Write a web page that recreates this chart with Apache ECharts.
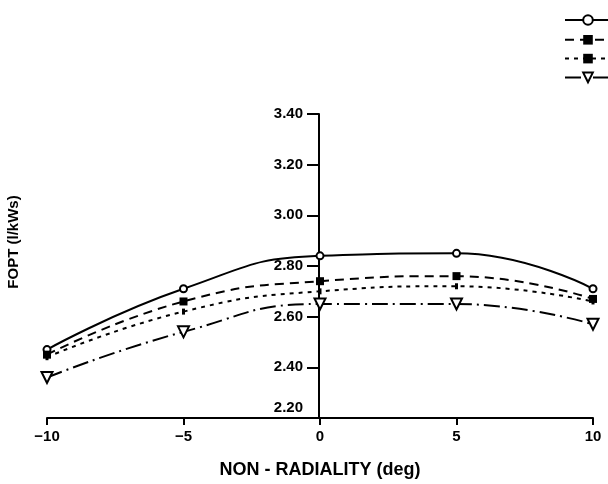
<!DOCTYPE html>
<html>
<head>
<meta charset="utf-8">
<script src="https://cdn.jsdelivr.net/npm/echarts@6/dist/echarts.min.js"></script>
<style>html,body{margin:0;padding:0;background:#fff}#c{width:608px;height:484px}</style>
</head>
<body>
<div id="c"></div>
<script>
const xValues = [-10, -5, 0, 5, 10];
const seriesA = [2.47, 2.71, 2.84, 2.85, 2.71];   // solid, open circle
const seriesB = [2.45, 2.66, 2.74, 2.76, 2.67];   // dashed, filled square
const seriesC = [2.44, 2.62, 2.70, 2.72, 2.66];   // short dashed
const seriesD = [2.36, 2.54, 2.65, 2.65, 2.57];   // dash-dot, open triangle
const yTicks = [2.2, 2.4, 2.6, 2.8, 3.0, 3.2, 3.4];
const xTicks = [-10, -5, 0, 5, 10];
const xTitle = 'NON - RADIALITY (deg)';
const yTitle = 'FOPT (l/kWs)';

const font = '"Liberation Sans", Arial, sans-serif';
const pair = arr => xValues.map((x, i) => [x, arr[i]]);

const chart = echarts.init(document.getElementById('c'), null, {renderer: 'canvas'});
chart.setOption({
  backgroundColor: '#fff',
  animation: false,
  grid: {left: 47, right: 15, top: 114, bottom: 62, containLabel: false},
  legend: {
    orient: 'vertical', left: 564, top: 14, padding: 0, itemWidth: 46, itemHeight: 12, itemGap: 8,
    formatter: () => '', textStyle: {fontSize: 1},
    data: ['A', 'B', 'C', 'D']
  },
  xAxis: {
    type: 'value', min: -10, max: 10, interval: 5,
    name: xTitle, nameLocation: 'middle', nameGap: 43,
    nameTextStyle: {color: '#000', fontFamily: font, fontWeight: 'bold', fontSize: 18},
    axisLine: {show: true, onZero: false, lineStyle: {color: '#000', width: 2}},
    axisTick: {show: true, inside: false, length: 7, lineStyle: {color: '#000', width: 2}},
    splitLine: {show: false},
    axisLabel: {color: '#000', fontFamily: font, fontWeight: 'bold', fontSize: 15, margin: 11,
      formatter: v => (v < 0 ? '\u2212' + Math.abs(v) : String(v))}
  },
  yAxis: {
    type: 'value', min: 2.2, max: 3.4, interval: 0.2, position: 'left', offset: -272,
    axisLine: {show: true, onZero: false, lineStyle: {color: '#000', width: 2}},
    axisTick: {show: true, length: 12, lineStyle: {color: '#000', width: 2}},
    splitLine: {show: false},
    axisLabel: {color: '#000', fontFamily: font, fontWeight: 'bold', fontSize: 15, margin: 16,
      formatter: v => Math.abs(v - 2.2) < 1e-6 ? '{lift|2.20}' : v.toFixed(2),
      rich: {lift: {fontFamily: font, fontWeight: 'bold', fontSize: 15, color: '#000', padding: [0, 0, 20, 0]}}}
  },
  graphic: [
    {type: 'text', x: 14, y: 242, rotation: Math.PI / 2,
      style: {text: yTitle, fill: '#000', font: 'bold 15px ' + font, align: 'center', verticalAlign: 'middle'}}
  ],
  series: [
    {name: 'A', type: 'line', smooth: true, data: pair(seriesA), symbol: 'emptyCircle', symbolSize: 7,
      lineStyle: {color: '#000', width: 2}, itemStyle: {color: '#000', borderWidth: 2}},
    {name: 'B', type: 'line', smooth: true, data: pair(seriesB), symbol: 'rect', symbolSize: 8,
      lineStyle: {color: '#000', width: 2, type: [9, 6]}, itemStyle: {color: '#000'}},
    {name: 'C', type: 'line', smooth: true, data: pair(seriesC), symbol: 'rect', symbolSize: [3, 6],
      lineStyle: {color: '#000', width: 2, type: [4, 5]}, itemStyle: {color: '#000'}},
    {name: 'D', type: 'line', smooth: true, data: pair(seriesD), symbol: 'emptyTriangle', symbolSize: 11, symbolRotate: 180,
      lineStyle: {color: '#000', width: 2, type: [16, 5, 2, 5]}, itemStyle: {color: '#000', borderWidth: 2}}
  ]
});
</script>
</body>
</html>
